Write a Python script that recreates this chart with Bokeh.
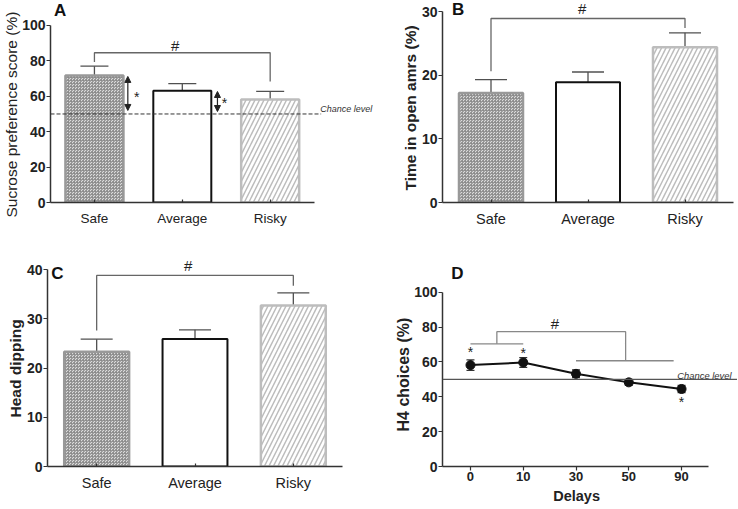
from bokeh.plotting import figure
from bokeh.models import (Range1d, FixedTicker, Whisker, TeeHead, Label, Arrow,
                          NormalHead, ColumnDataSource, Span, Title)
from bokeh.layouts import column, row
from bokeh.embed import file_html
from bokeh.resources import INLINE

FONT = "Liberation Sans"

# ---------------- data ----------------
groups = ["Safe", "Average", "Risky"]
sucrose_mean = [71.8, 63.1, 58.2]
sucrose_sem = [5.2, 4.0, 4.6]
open_arms_mean = [17.2, 18.9, 24.4]
open_arms_sem = [2.1, 1.6, 2.25]
head_dip_mean = [23.3, 25.9, 32.7]
head_dip_sem = [2.55, 1.85, 2.55]
delays = ["0", "10", "30", "50", "90"]
h4_mean = [58.2, 59.7, 53.2, 48.3, 44.5]
h4_sem = [3.0, 2.8, 2.2, 1.7, 2.1]
chance_level = 50

gpos = [i + 0.5 for i in range(len(groups))]   # category slots on the x scale
dpos = list(range(len(delays)))

bar_styles = [
    dict(fill_color="#dcdcdc", line_color="#999999", line_width=2.5,
         hatch_pattern="criss_cross", hatch_color="#8a8a8a", hatch_scale=3,
         hatch_weight=0.8),
    dict(fill_color="white", line_color="#111111", line_width=2),
    dict(fill_color="white", line_color="#bdbdbd", line_width=2.5,
         hatch_pattern="right_diagonal_line", hatch_color="#bdbdbd",
         hatch_scale=9, hatch_weight=1.5),
]


def style_axes(p, ylabel, label_bold, label_size, yticks, label_offset):
    p.outline_line_color = None
    p.xgrid.grid_line_color = None
    p.ygrid.grid_line_color = None
    p.background_fill_color = "white"
    p.border_fill_color = "white"
    for ax in (p.xaxis[0], p.yaxis[0]):
        ax.axis_line_color = "#333333"
        ax.axis_line_width = 1.5
        ax.minor_tick_line_color = None
        ax.major_tick_line_color = "#333333"
        ax.major_tick_line_width = 1.2
        ax.major_label_text_font = FONT
        ax.axis_label_text_font = FONT
        ax.major_label_text_color = "#222222"
        ax.axis_label_text_color = "#222222"
    y = p.yaxis[0]
    y.ticker = FixedTicker(ticks=yticks)
    y.bounds = (yticks[0], yticks[-1])
    y.major_tick_out = 4
    y.major_tick_in = 0
    y.major_label_standoff = 1
    y.major_label_text_font_size = "14px"
    y.major_label_text_font_style = "bold"
    # y-axis title, placed from the bottom of the frame upwards
    p.add_layout(Title(text=ylabel, align="left", offset=label_offset, standoff=0,
                       text_font=FONT, text_font_size=label_size,
                       text_font_style="bold" if label_bold else "normal",
                       text_color="#222222"), "left")


def bar_panel(means, sems, ylabel, label_bold, label_size, yend, yticks, xend, w, h,
              borders, cap, label_offset, cat_size):
    p = figure(x_range=Range1d(0, xend), y_range=Range1d(0, yend), width=w, height=h,
               output_backend="svg", toolbar_location=None,
               min_border_left=borders[0], min_border_right=borders[1],
               min_border_top=borders[2], min_border_bottom=borders[3])
    for x, m, st in zip(gpos, means, bar_styles):
        p.vbar(x=[x], top=[m], width=0.66, **st)
    src = ColumnDataSource(dict(x=gpos,
                                upper=[m + s for m, s in zip(means, sems)],
                                lower=[m - s for m, s in zip(means, sems)]))
    p.add_layout(Whisker(base="x", upper="upper", lower="lower", source=src,
                         line_color="#505050", line_width=1.3,
                         upper_head=TeeHead(size=cap, line_color="#505050", line_width=1.3),
                         lower_head=TeeHead(size=cap, line_color="#505050", line_width=1.3)))
    style_axes(p, ylabel, label_bold, label_size, yticks, label_offset)
    x = p.xaxis[0]
    x.ticker = FixedTicker(ticks=gpos)
    x.major_label_overrides = {gp: g for gp, g in zip(gpos, groups)}
    x.bounds = (0, len(groups))
    x.major_tick_in = 3
    x.major_tick_out = 0
    x.major_label_standoff = 8
    x.major_label_text_font_size = cat_size
    x.major_label_text_font_style = "normal"
    return p


def text(p, x, y, t, size="15px", style="normal", align="center", color="#222222"):
    p.add_layout(Label(x=x, y=y, text=t, text_font=FONT, text_font_size=size,
                       text_font_style=style, text_align=align,
                       text_baseline="middle", text_color=color))


BR = dict(line_color="#666666", line_width=1.3)

# ---------------- Panel A ----------------
pA = bar_panel(sucrose_mean, sucrose_sem, "Sucrose preference score (%)", False, "15.5px",
               114.1, [0, 20, 40, 60, 80, 100], 3.71, 376, 250, (47, 0, 0, 48), 28, -15,
               "13.5px")
pA.line(x=[0, 3.08], y=[chance_level, chance_level], line_color="#333333",
        line_width=1, line_dash="4 2")
text(pA, 3.07, 52.7, "Chance level", size="9px", style="italic", align="left",
     color="#333333")
pA.line(x=[gpos[0], gpos[0], gpos[2], gpos[2]], y=[79.3, 84.6, 84.6, 68.4], **BR)
text(pA, 1.42, 88.7, "#")
for xs, y0, y1 in [(0.88, 52.0, 71.2), (1.90, 51.4, 62.7)]:
    pA.add_layout(Arrow(x_start=xs, y_start=y0, x_end=xs, y_end=y1,
                        line_color="#222222", line_width=1.2,
                        start=NormalHead(size=6, fill_color="#222222", line_color="#222222"),
                        end=NormalHead(size=6, fill_color="#222222", line_color="#222222")))
text(pA, 0.98, 59.5, "*", size="14px")
text(pA, 1.98, 56.3, "*", size="14px")
text(pA, 0.11, 108.5, "A", size="17px", style="bold", color="#111111")

# ---------------- Panel B ----------------
pB = bar_panel(open_arms_mean, open_arms_sem, "Time in open amrs (%)", True, "15.5px",
               31.73, [0, 10, 20, 30], 3, 361, 250, (66, 4, 0, 48), 32, 12, "14.5px")
pB.line(x=[gpos[0], gpos[0], gpos[2], gpos[2]], y=[20.6, 28.9, 28.9, 27.4], **BR)
text(pB, 1.44, 30.47, "#")
text(pB, 0.16, 30.3, "B", size="17px", style="bold", color="#111111")

# ---------------- Panel C ----------------
pC = bar_panel(head_dip_mean, head_dip_sem, "Head dipping", True, "15.5px",
               43.86, [0, 10, 20, 30, 40], 3, 370, 258, (47, 28, 0, 42), 32, 49, "14.5px")
pC.line(x=[gpos[0], gpos[0], gpos[2], gpos[2]], y=[27.6, 38.8, 38.8, 36.7], **BR)
text(pC, 1.43, 40.8, "#")
text(pC, 0.10, 39.2, "C", size="17px", style="bold", color="#111111")

# ---------------- Panel D ----------------
pD = figure(x_range=Range1d(-0.53, 5.06), y_range=Range1d(0, 124), width=367, height=258,
            output_backend="svg", toolbar_location=None,
            min_border_left=72, min_border_right=0, min_border_top=0,
            min_border_bottom=41)
style_axes(pD, "H4 choices (%)", True, "16px", [0, 20, 40, 60, 80, 100], 35)
xd = pD.xaxis[0]
xd.ticker = FixedTicker(ticks=dpos)
xd.major_label_overrides = {i: d for i, d in zip(dpos, delays)}
xd.bounds = (-0.53, 4.51)
xd.major_tick_in = 0
xd.major_tick_out = 4
xd.major_label_standoff = 1
xd.major_label_text_font_size = "13px"
xd.major_label_text_font_style = "bold"
pD.add_layout(Title(text="Delays", align="left", offset=110.7, standoff=4,
                    text_font=FONT, text_font_size="14.5px", text_font_style="bold",
                    text_color="#222222"), "below")

pD.add_layout(Span(location=chance_level, dimension="width", line_color="#555555",
                   line_width=1.2))
text(pD, 3.92, 52.3, "Chance level", size="9.4px", style="italic", align="left",
     color="#333333")
# significance brackets
pD.line(x=[0, 1], y=[70.4, 70.4], line_color="#888888", line_width=1.3)
pD.line(x=[0.5, 0.5, 2.94, 2.94], y=[70.4, 77.4, 77.4, 60.7], line_color="#888888",
        line_width=1.3)
pD.line(x=[2.0, 3.85], y=[60.7, 60.7], line_color="#888888", line_width=1.3)
text(pD, 1.6, 81.9, "#")

srcD = ColumnDataSource(dict(x=dpos, y=h4_mean,
                             upper=[m + s for m, s in zip(h4_mean, h4_sem)],
                             lower=[m - s for m, s in zip(h4_mean, h4_sem)]))
pD.add_layout(Whisker(base="x", upper="upper", lower="lower", source=srcD,
                      line_color="#333333", line_width=1.3,
                      upper_head=TeeHead(size=8, line_color="#333333", line_width=1.3),
                      lower_head=TeeHead(size=8, line_color="#333333", line_width=1.3)))
pD.line(x="x", y="y", source=srcD, line_color="#111111", line_width=2)
pD.scatter(x="x", y="y", source=srcD, size=9, fill_color="#111111", line_color="#111111")
text(pD, 0, 66.0, "*", size="14px")
text(pD, 1, 65.4, "*", size="14px")
text(pD, 4, 37.0, "*", size="14px")
text(pD, -0.25, 110.9, "D", size="17px", style="bold", color="#111111")

layout = column(row(pA, pB), row(pC, pD))
open("out.html", "w").write(file_html(layout, INLINE))
